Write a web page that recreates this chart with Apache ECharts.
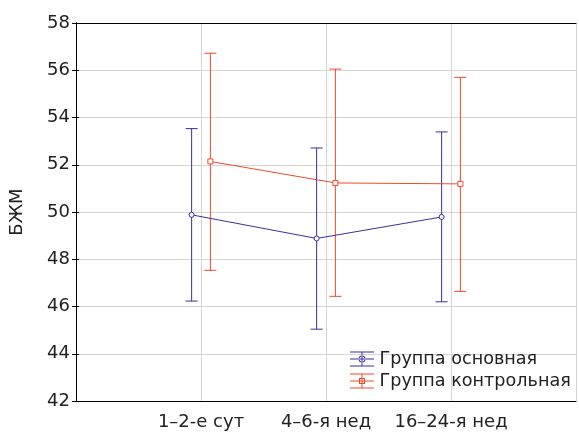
<!DOCTYPE html>
<html>
<head>
<meta charset="utf-8">
<script src="https://cdn.jsdelivr.net/npm/echarts@6/dist/echarts.min.js"></script>
<style>
  html, body { margin: 0; padding: 0; background: #fff; }
  #chart { width: 579px; height: 432px; }
</style>
</head>
<body>
<div id="chart"></div>
<script>
// 数据
var categories = ['1–2-е сут', '4–6-я нед', '16–24-я нед'];
var seriesNames = ['Группа основная', 'Группа контрольная'];
var mainMean = [49.88, 48.88, 49.79];
var mainLow = [46.23, 45.04, 46.20];
var mainHigh = [53.53, 52.71, 53.39];
var ctrlMean = [52.14, 51.23, 51.19];
var ctrlLow = [47.53, 46.43, 46.64];
var ctrlHigh = [56.72, 56.05, 55.70];
var yTicks = [42, 44, 46, 48, 50, 52, 54, 56, 58];

var blue = '#3b2f9e';
var red = '#ec4a2c';
var font = 'DejaVu Sans';
var shift = 0.075; // 组内偏移

function points(mean, dx) {
    return mean.map(function(v, i) { return [i + 1 + dx, v]; });
}
function bars(low, high, dx) {
    return low.map(function(v, i) { return [i + 1 + dx, v, high[i]]; });
}

// 误差线
function errorBar(color) {
    return function(params, api) {
        var x = api.value(0);
        var lo = api.coord([x, api.value(1)]);
        var hi = api.coord([x, api.value(2)]);
        var w = 6;
        var st = { stroke: color, lineWidth: 1 };
        return {
            type: 'group',
            children: [
                { type: 'line', shape: { x1: lo[0], y1: lo[1], x2: hi[0], y2: hi[1] }, style: st },
                { type: 'line', shape: { x1: hi[0] - w, y1: hi[1], x2: hi[0] + w, y2: hi[1] }, style: st },
                { type: 'line', shape: { x1: lo[0] - w, y1: lo[1], x2: lo[0] + w, y2: lo[1] }, style: st }
            ]
        };
    };
}

var bars24 = 'M0,0h24v1h-24z M0,14h24v1h-24z M11.5,0h1v15h-1z M0,7h24v1h-24z ';
var iconMain = 'path://' + bars24 + 'M8.5,7.5a3.5,3.5 0 1,0 7,0a3.5,3.5 0 1,0 -7,0z M9.5,7.5a2.5,2.5 0 1,1 5,0a2.5,2.5 0 1,1 -5,0z';
var iconCtrl = 'path://' + bars24 + 'M9,4.5h6v6h-6z M10,5.5v4h4v-4z';

var chart = echarts.init(document.getElementById('chart'));
var option = {
    backgroundColor: '#fff',
    animation: false,
    grid: { left: 73, right: 2, top: 23, bottom: 31 },
    legend: {
        orient: 'vertical',
        left: 345,
        top: 345,
        itemWidth: 25,
        itemHeight: 15,
        itemGap: 4,
        textStyle: { fontFamily: font, fontSize: 17.6, color: '#222', lineHeight: 15 },
        data: [
            { name: seriesNames[0], icon: iconMain, itemStyle: { color: blue } },
            { name: seriesNames[1], icon: iconCtrl, itemStyle: { color: red } }
        ]
    },
    xAxis: [{
        type: 'value',
        min: 0,
        max: 4,
        interval: 1,
        axisLine: { lineStyle: { color: '#000', width: 1 } },
        axisTick: { show: false },
        axisLabel: {
            fontFamily: font, fontSize: 18, color: '#222', margin: 12,
            formatter: function(v) { return categories[v - 1] || ''; }
        },
        splitLine: { show: true, lineStyle: { color: '#d4d4d4', width: 1 } }
    }, {
        type: 'value',
        position: 'top',
        min: 0,
        max: 4,
        interval: 1,
        axisLine: { show: true, lineStyle: { color: '#000', width: 1 } },
        axisTick: { show: false },
        axisLabel: { show: false },
        splitLine: { show: false }
    }],
    yAxis: [{
        type: 'value',
        min: yTicks[0],
        max: yTicks[yTicks.length - 1],
        interval: 2,
        name: 'БЖМ',
        nameLocation: 'middle',
        nameGap: 50,
        nameTextStyle: { fontFamily: font, fontSize: 18, color: '#222' },
        axisLine: { show: true, lineStyle: { color: '#000', width: 1 } },
        axisTick: { show: true, length: 4, lineStyle: { color: '#000' } },
        axisLabel: { fontFamily: font, fontSize: 18, color: '#222', margin: 6 },
        splitLine: { show: true, lineStyle: { color: '#d4d4d4', width: 1 } }
    }, {
        type: 'value',
        position: 'right',
        min: yTicks[0],
        max: yTicks[yTicks.length - 1],
        interval: 2,
        axisLine: { show: true, lineStyle: { color: '#000', width: 1 } },
        axisTick: { show: true, length: 3, lineStyle: { color: '#000' } },
        axisLabel: { show: false },
        splitLine: { show: false }
    }],
    series: [{
        name: seriesNames[0],
        type: 'custom',
        renderItem: errorBar(blue),
        data: bars(mainLow, mainHigh, -shift),
        encode: { x: 0, y: [1, 2] },
        z: 2
    }, {
        name: seriesNames[1],
        type: 'custom',
        renderItem: errorBar(red),
        data: bars(ctrlLow, ctrlHigh, shift),
        encode: { x: 0, y: [1, 2] },
        z: 2
    }, {
        name: seriesNames[0],
        type: 'line',
        data: points(mainMean, -shift),
        symbol: 'circle',
        symbolSize: 5,
        itemStyle: { color: '#fff', borderColor: blue, borderWidth: 1 },
        lineStyle: { color: blue, width: 1 },
        z: 3
    }, {
        name: seriesNames[1],
        type: 'line',
        data: points(ctrlMean, shift),
        symbol: 'rect',
        symbolSize: 5,
        itemStyle: { color: '#fff', borderColor: red, borderWidth: 1 },
        lineStyle: { color: red, width: 1 },
        z: 3
    }]
};
chart.setOption(option);
</script>
</body>
</html>
